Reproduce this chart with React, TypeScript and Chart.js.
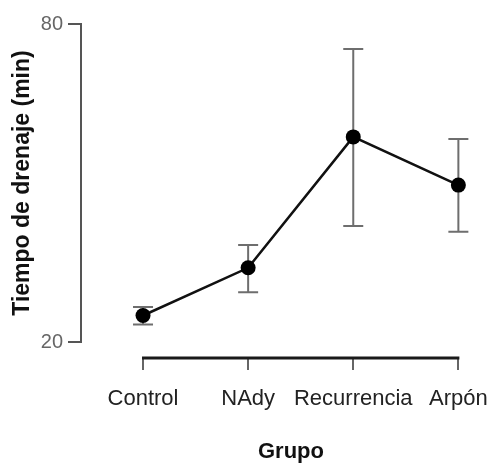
import React, { useEffect, useRef } from "react";
import { Chart, registerables } from "chart.js";

Chart.register(...registerables);

const categories = ["Control", "NAdy", "Recurrencia", "Arpón"];
const means = [25.0, 34.0, 58.7, 49.6];
const upper = [26.6, 38.3, 75.3, 58.3];
const lower = [23.3, 29.4, 41.9, 40.8];
const yTicks = [20, 80];
const yTitle = "Tiempo de drenaje (min)";
const xTitle = "Grupo";

const FONT = "'Liberation Sans', Arial, sans-serif";

const customPlugin = {
  id: "customAxesAndErrors",
  beforeDatasetsDraw(chart: any) {
    const { ctx, scales } = chart;
    const x = scales.x;
    const y = scales.y;
    ctx.save();
    ctx.strokeStyle = "#6e6e6e";
    ctx.lineWidth = 2;
    categories.forEach((_, i) => {
      const px = x.getPixelForValue(i);
      const pu = y.getPixelForValue(upper[i]);
      const pl = y.getPixelForValue(lower[i]);
      ctx.beginPath();
      ctx.moveTo(px, pu);
      ctx.lineTo(px, pl);
      ctx.moveTo(px - 10, pu);
      ctx.lineTo(px + 10, pu);
      ctx.moveTo(px - 10, pl);
      ctx.lineTo(px + 10, pl);
      ctx.stroke();
    });
    ctx.restore();
  },
  afterDraw(chart: any) {
    const { ctx, scales, chartArea } = chart;
    const x = scales.x;
    const y = scales.y;
    ctx.save();
    // y axis line
    ctx.strokeStyle = "#555555";
    ctx.lineWidth = 2;
    ctx.beginPath();
    ctx.moveTo(chartArea.left, y.getPixelForValue(yTicks[yTicks.length - 1]) - 1);
    ctx.lineTo(chartArea.left, y.getPixelForValue(yTicks[0]) + 1);
    ctx.stroke();
    // x axis line
    ctx.strokeStyle = "#1a1a1a";
    ctx.lineWidth = 3;
    ctx.beginPath();
    ctx.moveTo(x.getPixelForValue(0) - 1, chartArea.bottom);
    ctx.lineTo(x.getPixelForValue(categories.length - 1) + 1, chartArea.bottom);
    ctx.stroke();
    // titles
    ctx.fillStyle = "#111111";
    ctx.textAlign = "center";
    ctx.textBaseline = "middle";
    ctx.font = `bold 22px ${FONT}`;
    ctx.fillText(xTitle, 291, 452);
    ctx.font = `bold 23px ${FONT}`;
    const yc = (y.getPixelForValue(yTicks[0]) + y.getPixelForValue(yTicks[yTicks.length - 1])) / 2;
    ctx.translate(23, yc);
    ctx.rotate(-Math.PI / 2);
    ctx.fillText(yTitle, 0, 0);
    ctx.restore();
  },
};

export default function App() {
  const canvasRef = useRef<HTMLCanvasElement | null>(null);

  useEffect(() => {
    document.body.style.margin = "0";
    const canvas = canvasRef.current;
    if (!canvas) return;
    const chart = new Chart(canvas, {
      type: "line",
      data: {
        datasets: [
          {
            data: means.map((m, i) => ({ x: i, y: m })),
            borderColor: "#111111",
            borderWidth: 2.5,
            pointRadius: 7.5,
            pointHoverRadius: 7.5,
            pointBackgroundColor: "#000000",
            pointBorderColor: "#000000",
            pointBorderWidth: 0,
            tension: 0,
          },
        ],
      },
      options: {
        animation: false,
        responsive: false,
        maintainAspectRatio: false,
        events: [],
        layout: { padding: { top: 24, right: 0, bottom: 0, left: 0 } },
        plugins: {
          legend: { display: false },
          tooltip: { enabled: false },
          title: { display: false },
        },
        scales: {
          x: {
            type: "linear",
            min: -0.59,
            max: 3.22,
            afterBuildTicks: (scale: any) => {
              scale.ticks = categories.map((_, i) => ({ value: i }));
            },
            afterFit: (scale: any) => {
              scale.height = 106;
              scale.paddingLeft = 0;
              scale.paddingRight = 0;
            },
            border: { display: false },
            grid: {
              drawOnChartArea: false,
              drawTicks: true,
              tickLength: 12,
              color: "#666666",
              lineWidth: 2,
            },
            ticks: {
              callback: (v: any) => categories[Number(v)] ?? "",
              color: "#222222",
              font: { family: FONT, size: 22 },
              padding: 16,
              maxRotation: 0,
              autoSkip: false,
            },
          },
          y: {
            type: "linear",
            min: 16.98,
            max: 80,
            afterBuildTicks: (scale: any) => {
              scale.ticks = yTicks.map((v) => ({ value: v }));
            },
            afterFit: (scale: any) => {
              scale.width = 81;
            },
            border: { display: false },
            grid: {
              drawOnChartArea: false,
              drawTicks: true,
              tickLength: 13,
              color: "#555555",
              lineWidth: 2,
            },
            ticks: {
              color: "#666666",
              font: { family: FONT, size: 20 },
              padding: 5,
            },
          },
        },
      },
      plugins: [customPlugin],
    });
    return () => chart.destroy();
  }, []);

  return (
    <div style={{ position: "relative", width: 489, height: 464 }}>
      <canvas ref={canvasRef} width={489} height={464} style={{ width: 489, height: 464 }} />
    </div>
  );
}
